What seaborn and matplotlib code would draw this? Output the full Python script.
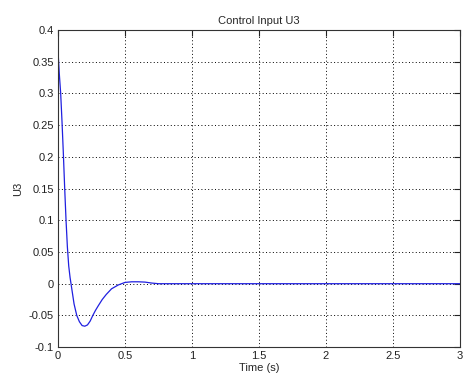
import matplotlib
matplotlib.use("Agg")
import matplotlib.pyplot as plt
import seaborn as sns
import pandas as pd

time_s = [0.0, 0.01, 0.02, 0.03, 0.04, 0.05, 0.06, 0.07, 0.08, 0.09, 0.10,
          0.12, 0.14, 0.16, 0.18, 0.20, 0.22, 0.24, 0.26, 0.28, 0.30, 0.33,
          0.36, 0.40, 0.45, 0.50, 0.55, 0.60, 0.65, 0.70, 0.75, 0.80, 1.0,
          1.5, 2.0, 2.5, 3.0]
u3 = [0.367, 0.33, 0.30, 0.255, 0.205, 0.15, 0.10, 0.058, 0.028, 0.010, -0.004,
      -0.032, -0.050, -0.060, -0.066, -0.067, -0.065, -0.059, -0.050, -0.042, -0.035, -0.025,
      -0.017, -0.008, -0.002, 0.002, 0.003, 0.003, 0.0025, 0.001, 0.0, 0.0, 0.0,
      0.0, 0.0, 0.0, 0.0]

title = "Control Input U3"
xlabel = "Time (s)"
ylabel = "U3"

df = pd.DataFrame({"t": time_s, "u": u3})

sns.set_style("white")
plt.rcParams["font.family"] = ["Liberation Sans", "DejaVu Sans"]

fig = plt.figure(figsize=(4.64, 3.84), dpi=100)
ax = fig.add_axes([0.125, 0.096, 0.866, 0.826])
sns.lineplot(data=df, x="t", y="u", ax=ax, color="#2020e0", linewidth=0.9)

ax.set_xlim(0, 3)
ax.set_ylim(-0.1, 0.4)
ax.set_xticks([0, 0.5, 1, 1.5, 2, 2.5, 3])
ax.set_xticklabels(["0", "0.5", "1", "1.5", "2", "2.5", "3"])
ax.set_yticks([-0.1, -0.05, 0, 0.05, 0.1, 0.15, 0.2, 0.25, 0.3, 0.35, 0.4])
ax.set_yticklabels(["-0.1", "-0.05", "0", "0.05", "0.1", "0.15", "0.2", "0.25", "0.3", "0.35", "0.4"])
ax.grid(True, color="black", linestyle=(0, (1, 2.5)), linewidth=0.7)
ax.tick_params(direction="in", length=4, width=0.8, labelsize=8, colors="#222222",
               top=True, right=True, labeltop=False, labelright=False, pad=3)
for s in ax.spines.values():
    s.set_color("#333333")
    s.set_linewidth(0.8)
ax.set_title(title, fontsize=8, pad=4)
ax.set_xlabel(xlabel, fontsize=8, labelpad=1)
ax.set_ylabel(ylabel, fontsize=8, labelpad=4)

fig.savefig("out.png", dpi=100)
